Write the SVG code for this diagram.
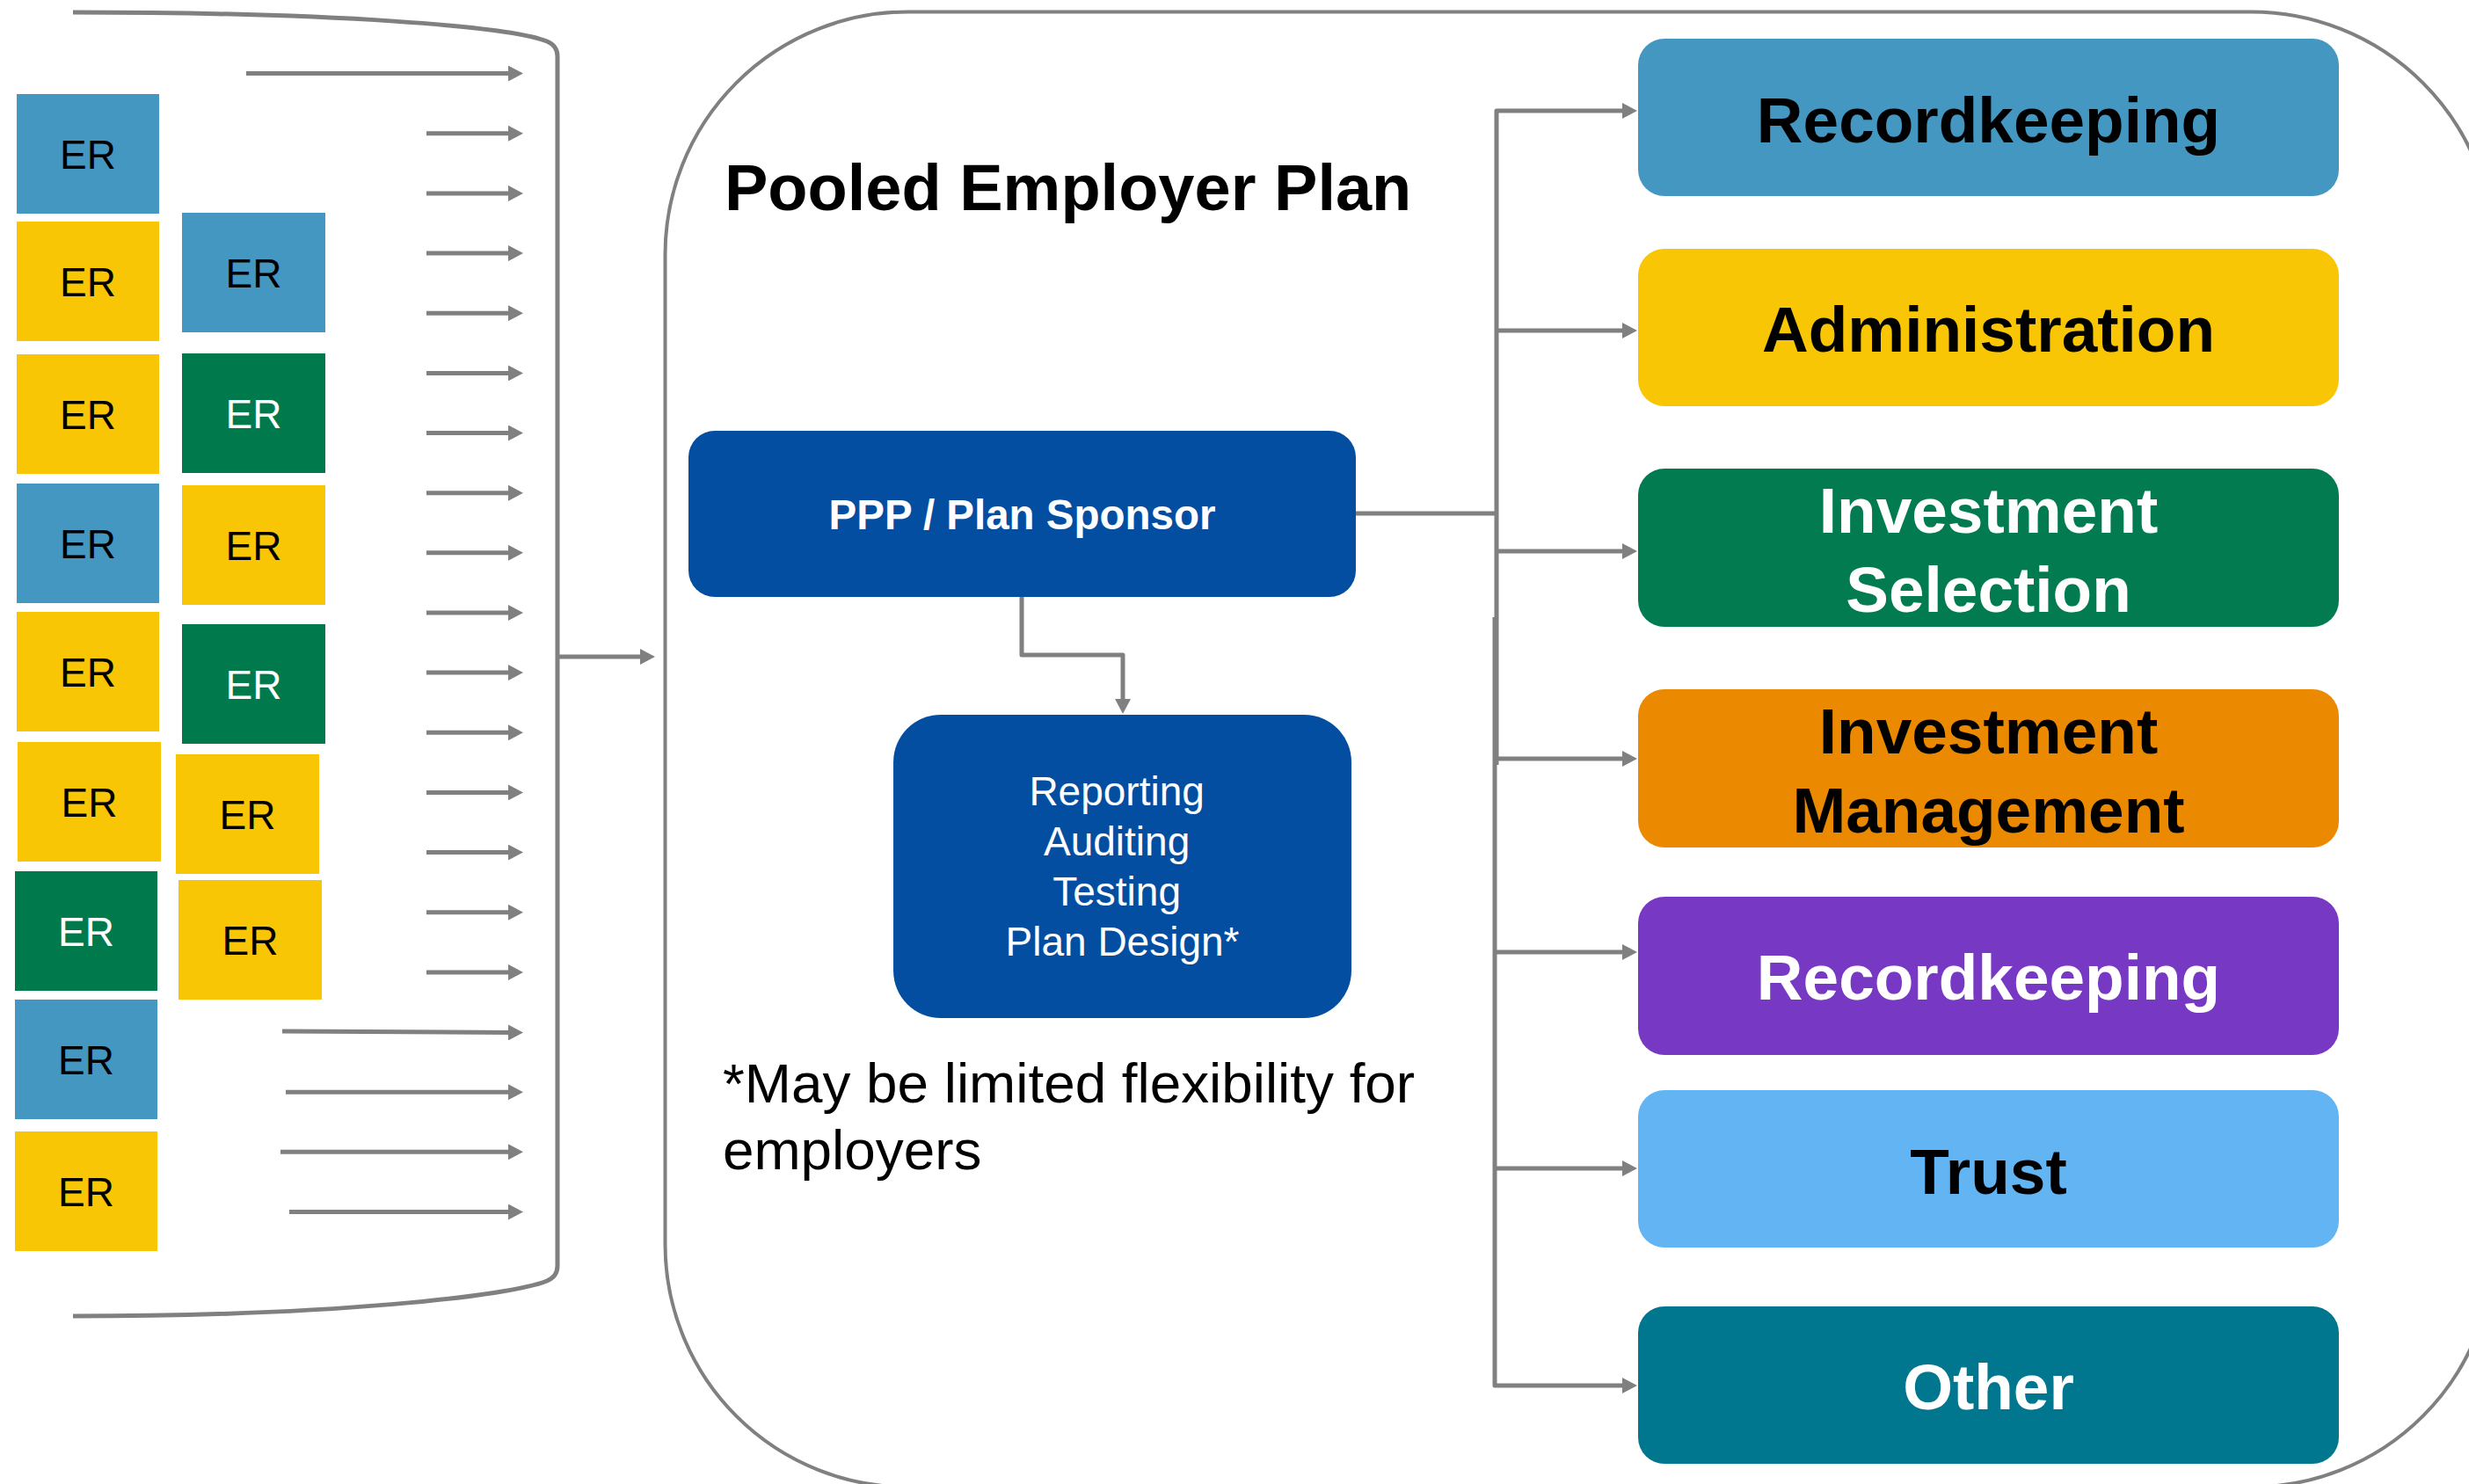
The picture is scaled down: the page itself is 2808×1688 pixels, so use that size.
<svg xmlns="http://www.w3.org/2000/svg" width="2808" height="1688" viewBox="0 0 2808 1688">
<defs>
<style>
.er{stroke:none}
.blue{fill:#4397C0}
.yel{fill:#F8C605}
.grn{fill:#007A4D}
.ert{font-family:"Liberation Sans",Arial,sans-serif;font-size:46px;text-anchor:middle}
.dk{fill:#000}
.wt{fill:#fff}
.ln{fill:none;stroke:#808080;stroke-width:5;stroke-linejoin:round}
.frame{fill:none;stroke:#808080;stroke-width:4}
.svc{font-family:"Liberation Sans",Arial,sans-serif;font-size:73px;font-weight:bold;text-anchor:middle}
</style>
<marker id="ah" markerUnits="userSpaceOnUse" markerWidth="17" markerHeight="18" viewBox="0 0 17 18" refX="5" refY="9" orient="auto">
<path d="M0,0 L17,9 L0,18 z" fill="#808080"/>
</marker>
</defs>
<rect width="2808" height="1688" fill="#fff"/>

<!-- Pooled Employer Plan container -->
<g id="pep-container">
<rect class="frame" x="756.5" y="13.5" width="2080" height="1678" rx="276" ry="276"/>
<text x="824" y="239" font-family="'Liberation Sans',Arial,sans-serif" font-size="74" font-weight="bold" fill="#000">Pooled Employer Plan</text>
</g>

<!-- Left bracket -->
<g id="bracket">
<path d="M83,14 C380,14 580,30 622,47 Q634,52 634,64 V1440 Q634,1452 622,1457 C580,1474 380,1497 83,1497" fill="none" stroke="#808080" stroke-width="5"/>
</g>

<!-- Employer boxes -->
<g id="er-c1r1"><rect class="er blue" x="19" y="107" width="162" height="136"/><text class="ert dk" x="100" y="192">ER</text></g>
<g id="er-c1r2"><rect class="er yel" x="19" y="252" width="162" height="136"/><text class="ert dk" x="100" y="337">ER</text></g>
<g id="er-c1r3"><rect class="er yel" x="19" y="403" width="162" height="136"/><text class="ert dk" x="100" y="488">ER</text></g>
<g id="er-c1r4"><rect class="er blue" x="19" y="550" width="162" height="136"/><text class="ert dk" x="100" y="635">ER</text></g>
<g id="er-c1r5"><rect class="er yel" x="19" y="696" width="162" height="136"/><text class="ert dk" x="100" y="781">ER</text></g>
<g id="er-c1r6"><rect class="er yel" x="20" y="844" width="163" height="136"/><text class="ert dk" x="101.5" y="929">ER</text></g>
<g id="er-c1r7"><rect class="er grn" x="17" y="991" width="162" height="136"/><text class="ert wt" x="98" y="1076">ER</text></g>
<g id="er-c1r8"><rect class="er blue" x="17" y="1137" width="162" height="136"/><text class="ert dk" x="98" y="1222">ER</text></g>
<g id="er-c1r9"><rect class="er yel" x="17" y="1287" width="162" height="136"/><text class="ert dk" x="98" y="1372">ER</text></g>
<g id="er-c2r1"><rect class="er blue" x="207" y="242" width="163" height="136"/><text class="ert dk" x="288.5" y="327">ER</text></g>
<g id="er-c2r2"><rect class="er grn" x="207" y="402" width="163" height="136"/><text class="ert wt" x="288.5" y="487">ER</text></g>
<g id="er-c2r3"><rect class="er yel" x="207" y="552" width="163" height="136"/><text class="ert dk" x="288.5" y="637">ER</text></g>
<g id="er-c2r4"><rect class="er grn" x="207" y="710" width="163" height="136"/><text class="ert wt" x="288.5" y="795">ER</text></g>
<g id="er-c2r5"><rect class="er yel" x="200" y="858" width="163" height="136"/><text class="ert dk" x="281.5" y="943">ER</text></g>
<g id="er-c2r6"><rect class="er yel" x="203" y="1001" width="163" height="136"/><text class="ert dk" x="284.5" y="1086">ER</text></g>

<!-- PPP / Plan Sponsor -->
<g id="ppp">
<rect x="783" y="490" width="759" height="189" rx="30" ry="30" fill="#034EA0"/>
<text x="1162.5" y="602" font-family="'Liberation Sans',Arial,sans-serif" font-size="47.5" font-weight="bold" fill="#fff" text-anchor="middle">PPP / Plan Sponsor</text>
</g>

<!-- Reporting box -->
<g id="reporting">
<rect x="1016" y="813" width="521" height="345" rx="54" ry="54" fill="#034EA0"/>
<text font-family="'Liberation Sans',Arial,sans-serif" font-size="46" fill="#fff" text-anchor="middle">
<tspan x="1276.5" y="916">Reporting</tspan>
<tspan x="1276.5" y="973">Auditing</tspan>
<tspan x="1276.5" y="1030">Testing</tspan>
<tspan x="1276.5" y="1087">Plan Design*</tspan>
</text>
</g>

<!-- Footnote -->
<g id="footnote">
<text font-family="'Liberation Sans',Arial,sans-serif" font-size="63.8" fill="#000">
<tspan x="822" y="1254">*May be limited flexibility for</tspan>
<tspan x="822" y="1330">employers</tspan>
</text>
</g>

<!-- Service boxes -->
<g id="svc-recordkeeping-1"><rect x="1863" y="44" width="797" height="179" rx="30" ry="30" fill="#4397C0"/><text class="svc dk" x="2261.5" y="162">Recordkeeping</text></g>
<g id="svc-administration"><rect x="1863" y="283" width="797" height="179" rx="30" ry="30" fill="#F8C605"/><text class="svc dk" x="2261.5" y="400">Administration</text></g>
<g id="svc-investment-selection"><rect x="1863" y="533" width="797" height="180" rx="30" ry="30" fill="#017B4F"/><text class="svc wt" x="2261.5" y="606">Investment</text><text class="svc wt" x="2261.5" y="696">Selection</text></g>
<g id="svc-investment-management"><rect x="1863" y="784" width="797" height="180" rx="30" ry="30" fill="#EB8A00"/><text class="svc dk" x="2261.5" y="857">Investment</text><text class="svc dk" x="2261.5" y="947">Management</text></g>
<g id="svc-recordkeeping-2"><rect x="1863" y="1020" width="797" height="180" rx="30" ry="30" fill="#7739C4"/><text class="svc wt" x="2261.5" y="1137">Recordkeeping</text></g>
<g id="svc-trust"><rect x="1863" y="1240" width="797" height="179" rx="30" ry="30" fill="#62B4F2"/><text class="svc dk" x="2261.5" y="1358">Trust</text></g>
<g id="svc-other"><rect x="1863" y="1486" width="797" height="179" rx="30" ry="30" fill="#00778E"/><text class="svc wt" x="2261.5" y="1603">Other</text></g>

<!-- Connectors -->
<g id="connectors" class="ln">
<path d="M280,83.6 H583" marker-end="url(#ah)"/>
<path d="M485,151.8 H583" marker-end="url(#ah)"/>
<path d="M485,219.9 H583" marker-end="url(#ah)"/>
<path d="M485,288.1 H583" marker-end="url(#ah)"/>
<path d="M485,356.2 H583" marker-end="url(#ah)"/>
<path d="M485,424.4 H583" marker-end="url(#ah)"/>
<path d="M485,492.5 H583" marker-end="url(#ah)"/>
<path d="M485,560.7 H583" marker-end="url(#ah)"/>
<path d="M485,628.8 H583" marker-end="url(#ah)"/>
<path d="M485,697 H583" marker-end="url(#ah)"/>
<path d="M485,765.1 H583" marker-end="url(#ah)"/>
<path d="M485,833.3 H583" marker-end="url(#ah)"/>
<path d="M485,901.4 H583" marker-end="url(#ah)"/>
<path d="M485,969.6 H583" marker-end="url(#ah)"/>
<path d="M485,1037.7 H583" marker-end="url(#ah)"/>
<path d="M485,1105.9 H583" marker-end="url(#ah)"/>
<path d="M321,1173 L583,1174.5" marker-end="url(#ah)"/>
<path d="M325,1242.2 H583" marker-end="url(#ah)"/>
<path d="M319,1310.3 H583" marker-end="url(#ah)"/>
<path d="M329,1378.5 H583" marker-end="url(#ah)"/>
<path d="M636,747 H733" marker-end="url(#ah)"/>
<path d="M1162,679 V745 H1277 V800" marker-end="url(#ah)"/>
<path d="M1542,584 H1702"/>
<path d="M1702,870 V126 H1850" marker-end="url(#ah)"/>
<path d="M1700,702 V1576 H1850" marker-end="url(#ah)"/>
<path d="M1702,376 H1850" marker-end="url(#ah)"/>
<path d="M1702,627 H1850" marker-end="url(#ah)"/>
<path d="M1701,863 H1850" marker-end="url(#ah)"/>
<path d="M1700,1083 H1850" marker-end="url(#ah)"/>
<path d="M1700,1329 H1850" marker-end="url(#ah)"/>
</g>
</svg>
